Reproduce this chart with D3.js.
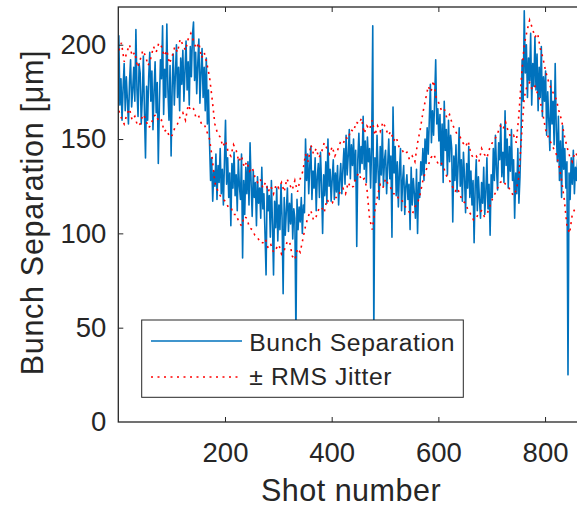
<!DOCTYPE html>
<html>
    <head>
        <title>Bunch separation</title>
        <meta charset="UTF-8">
        <script src="https://cdnjs.cloudflare.com/ajax/libs/d3/7.9.0/d3.min.js"></script>
        <style>
            html, body {
                margin: 0;
                padding: 0;
                background: #fff;
            }
            svg text {
                font-family: "Liberation Sans", Arial, Helvetica, sans-serif;
                fill: #262626;
            }
        </style>
    </head>
    <body>
        <div id="chart"></div>
        <script>
            // bunch separation per shot, one value every 2 shots starting at shot 1
            var shotStep = 2;
            var separation = [
                205, 168, 182, 160, 177, 190, 165, 183, 171, 158,
                180, 192, 167, 176, 188, 170, 208, 176, 162, 190,
                185, 158, 172, 194, 165, 140, 178, 160, 183, 196,
                170, 186, 155, 175, 191, 164, 180, 137, 168, 192,
                182, 210, 163, 187, 172, 211, 176, 160, 189, 141,
                178, 195, 168, 184, 200, 172, 188, 165, 193, 179,
                197, 170, 186, 202, 176, 191, 168, 199, 183, 205,
                212, 181, 196, 174, 190, 203, 169, 185, 198, 172,
                188, 165, 193, 158, 176, 148, 128, 140, 117, 133,
                125, 142, 118, 136, 127, 145, 121, 134, 115, 138,
                160, 126, 140, 119, 132, 104, 137, 124, 143, 120,
                131, 112, 139, 125, 118, 142, 87, 128, 110, 135,
                121, 138, 115, 148, 126, 109, 133, 119, 127, 104,
                130, 116, 124, 108, 135, 113, 121, 100, 78, 125,
                112, 120, 98, 128, 105, 78, 117, 103, 124, 96,
                115, 102, 126, 108, 68, 119, 99, 112, 124, 101,
                116, 105, 121, 97, 113, 108, 45, 118, 102, 114,
                106, 119, 100, 115, 111, 150, 128, 142, 121, 136,
                146, 118, 133, 124, 140, 112, 130, 137, 119, 143,
                126, 100, 131, 120, 138, 116, 150, 125, 134, 117,
                129, 139, 118, 132, 122, 136, 115, 128, 137, 121,
                134, 145, 126, 152, 131, 141, 155, 129, 147, 136,
                150, 128, 144, 93, 139, 153, 132, 146, 137, 162,
                134, 149, 127, 151, 138, 145, 124, 147, 210, 45,
                140, 127, 152, 133, 118, 146, 131, 155, 125, 139,
                144, 121, 136, 150, 129, 141, 98, 167, 132, 146,
                120, 138, 114, 133, 145, 112, 128, 136, 110, 125,
                131, 118, 126, 102, 135, 115, 129, 121, 108, 134,
                100, 127, 119, 138, 131, 145, 128, 150, 137, 156,
                142, 160, 179, 148, 165, 152, 170, 192, 158, 166,
                149, 163, 136, 158, 127, 170, 144, 155, 131, 160,
                138, 152, 145, 106, 141, 128, 147, 122, 136, 156,
                125, 139, 117, 143, 130, 111, 137, 124, 146, 119,
                133, 115, 128, 95, 125, 139, 112, 130, 118, 108,
                127, 116, 135, 110, 122, 140, 113, 126, 99, 131,
                119, 145, 128, 152, 134, 123, 148, 139, 158, 130,
                143, 127, 165, 136, 150, 124, 146, 133, 155, 128,
                139, 108, 132, 121, 145, 116, 130, 152, 192, 170,
                218, 185, 200, 172, 193, 181, 206, 168, 190, 178,
                204, 176, 195, 165, 188, 172, 199, 162, 183, 170,
                186, 152, 175, 160, 144, 181, 158, 170, 147, 190,
                155, 138, 162, 128, 149, 119, 157, 134, 145, 124,
                138, 25, 132, 118, 140, 126, 144, 121, 135, 128,
                139, 124, 133, 142, 127, 136
            ];

            // +/- RMS jitter envelope, one value every 5 shots starting at shot 1
            var jitterStep = 5;
            var jitterUpper = [
                197, 201, 191, 196, 200, 194, 196, 188, 192, 197,
                194, 189, 193, 199, 196, 201, 199, 194, 197, 190,
                194, 199, 196, 203, 200, 197, 203, 206, 202, 198,
                201, 193, 196, 190, 183, 171, 158, 153, 151, 146,
                149, 143, 141, 147, 144, 138, 141, 135, 138, 133,
                135, 130, 127, 129, 124, 127, 122, 125, 121, 126,
                124, 127, 122, 129, 126, 123, 128, 122, 129, 133,
                142, 138, 147, 142, 145, 140, 143, 148, 145, 142,
                146, 141, 144, 148, 147, 151, 150, 155, 154, 159,
                158, 161, 153, 157, 155, 160, 152, 157, 154, 159,
                156, 152, 154, 149, 151, 146, 145, 142, 143, 139,
                141, 138, 148, 155, 164, 171, 178, 175, 181, 172,
                169, 165, 166, 161, 163, 158, 155, 152, 151, 148,
                146, 149, 142, 140, 141, 138, 145, 142, 140, 145,
                148, 150, 153, 157, 155, 159, 154, 151, 152, 148,
                163, 184, 200, 207, 213, 209, 204, 206, 198, 193,
                186, 181, 177, 174, 171, 165, 160, 152, 146, 141,
                138, 143, 141, 145, 139
            ];
            var jitterLower = [
                165, 161, 158, 163, 166, 160, 162, 157, 158, 163,
                161, 156, 157, 162, 163, 159, 160, 154, 155, 151,
                152, 156, 158, 162, 164, 160, 168, 165, 166, 161,
                162, 158, 158, 154, 150, 140, 127, 123, 120, 118,
                117, 114, 114, 110, 110, 106, 104, 109, 108, 103,
                102, 99, 98, 95, 95, 97, 92, 94, 90, 92,
                94, 89, 91, 95, 96, 88, 86, 92, 90, 97,
                104, 109, 112, 107, 109, 113, 114, 111, 118, 116,
                116, 119, 119, 122, 124, 121, 127, 124, 125, 130,
                132, 128, 129, 124, 108, 102, 112, 120, 126, 124,
                129, 126, 124, 121, 121, 118, 118, 115, 113, 111,
                110, 114, 116, 121, 128, 133, 136, 140, 142, 139,
                136, 137, 134, 130, 128, 125, 122, 124, 120, 117,
                116, 112, 110, 107, 108, 111, 112, 109, 110, 114,
                118, 121, 124, 127, 128, 126, 125, 122, 120, 123,
                130, 152, 172, 178, 180, 176, 178, 174, 170, 163,
                155, 151, 148, 145, 142, 136, 128, 118, 104, 100,
                110, 113, 114, 111, 112
            ];

            var xTicks = [200, 400, 600, 800];
            var yTicks = [0, 50, 100, 150, 200];
            var xLimits = [0, 873];
            var yLimits = [0, 220];
            var legendLabels = ['Bunch Separation', '\u00B1 RMS Jitter'];

            function drawChart(selector){
                let w = 577;
                let h = 508;
                let left = 118.3;
                let right = 584;
                let top = 7;
                let bottom = 422;
                let axisColor = '#262626';
                let blue = '#0072BD';
                let red = '#FF0000';

                let svg = d3.select(selector).append('svg')
                        .attr('width', w)
                        .attr('height', h)
                        .style('display', 'block');

                let x = d3.scaleLinear()
                        .domain(xLimits)
                        .range([left, right]);

                let y = d3.scaleLinear()
                        .domain(yLimits)
                        .range([bottom, top]);

                svg.append('defs').append('clipPath')
                        .attr('id', 'plot-clip')
                        .append('rect')
                        .attr('x', left)
                        .attr('y', top)
                        .attr('width', right - left)
                        .attr('height', bottom - top);

                let mainData = separation.map((v, i) => ({x: 1 + i * shotStep, y: v}));
                let upData = jitterUpper.map((v, i) => ({x: 1 + i * jitterStep, y: v}));
                let loData = jitterLower.map((v, i) => ({x: 1 + i * jitterStep, y: v}));

                let line = d3.line()
                        .curve(d3.curveLinear)
                        .x(d => x(d.x))
                        .y(d => y(d.y));

                let plot = svg.append('g').attr('clip-path', 'url(#plot-clip)');

                plot.append('path')
                    .datum(mainData)
                    .attr('fill', 'none')
                    .attr('stroke', blue)
                    .attr('stroke-width', 1.6)
                    .attr('stroke-linejoin', 'round')
                    .attr('d', line);

                [upData, loData].forEach(function(d){
                    plot.append('path')
                        .datum(d)
                        .attr('fill', 'none')
                        .attr('stroke', red)
                        .attr('stroke-width', 1.6)
                        .attr('stroke-dasharray', '2 4.5')
                        .attr('d', line);
                });

                // axes box, ticks pointing inwards like matlab
                let xAxis = svg.append('g')
                        .attr('transform', 'translate(0,' + bottom + ')')
                        .call(d3.axisBottom(x).tickValues(xTicks).tickSizeInner(-5).tickSizeOuter(0).tickPadding(20));
                let xTop = svg.append('g')
                        .attr('transform', 'translate(0,' + top + ')')
                        .call(d3.axisTop(x).tickValues(xTicks).tickSizeInner(-5).tickSizeOuter(0).tickFormat(''));
                let yAxis = svg.append('g')
                        .attr('transform', 'translate(' + left + ',0)')
                        .call(d3.axisLeft(y).tickValues(yTicks).tickSizeInner(-5).tickSizeOuter(0).tickPadding(12));

                [xAxis, xTop, yAxis].forEach(function(a){
                    a.select('.domain').remove();
                    a.selectAll('line').attr('stroke', axisColor).attr('stroke-width', 1);
                    a.selectAll('text')
                        .style('font-size', '27.5px')
                        .attr('fill', axisColor);
                });
                yAxis.selectAll('.tick').filter(d => d === 0).select('line').remove();

                svg.append('rect')
                    .attr('x', left)
                    .attr('y', top)
                    .attr('width', right - left)
                    .attr('height', bottom - top)
                    .attr('fill', 'none')
                    .attr('stroke', axisColor)
                    .attr('stroke-width', 1.3);

                svg.append('text')
                    .attr('x', 351)
                    .attr('y', 501)
                    .style('text-anchor', 'middle')
                    .style('font-size', '30.5px')
                    .style('letter-spacing', '0.5px')
                    .text('Shot number');

                svg.append('text')
                    .attr('transform', 'translate(43,212.5) rotate(-90)')
                    .style('text-anchor', 'middle')
                    .style('font-size', '30.5px')
                    .style('letter-spacing', '0.7px')
                    .text('Bunch Separation [\u03BCm]');

                // legend
                let lg = svg.append('g');
                lg.append('rect')
                    .attr('x', 141.7)
                    .attr('y', 320)
                    .attr('width', 321.6)
                    .attr('height', 77.3)
                    .attr('fill', '#fff')
                    .attr('stroke', axisColor)
                    .attr('stroke-width', 1);

                let rows = [
                    {y: 341, color: blue, dash: null, base: 350.7},
                    {y: 377, color: red, dash: '2 4.5', base: 385}
                ];
                rows.forEach(function(r, i){
                    lg.append('line')
                        .attr('x1', 151)
                        .attr('x2', 242)
                        .attr('y1', r.y)
                        .attr('y2', r.y)
                        .attr('stroke', r.color)
                        .attr('stroke-width', 1.6)
                        .attr('stroke-dasharray', r.dash);
                    lg.append('text')
                        .attr('x', 249.3)
                        .attr('y', r.base)
                        .style('font-size', '24.7px')
                        .style('letter-spacing', '0.6px')
                        .text(legendLabels[i]);
                });
            }

            drawChart('#chart');
        </script>
    </body>
</html>
